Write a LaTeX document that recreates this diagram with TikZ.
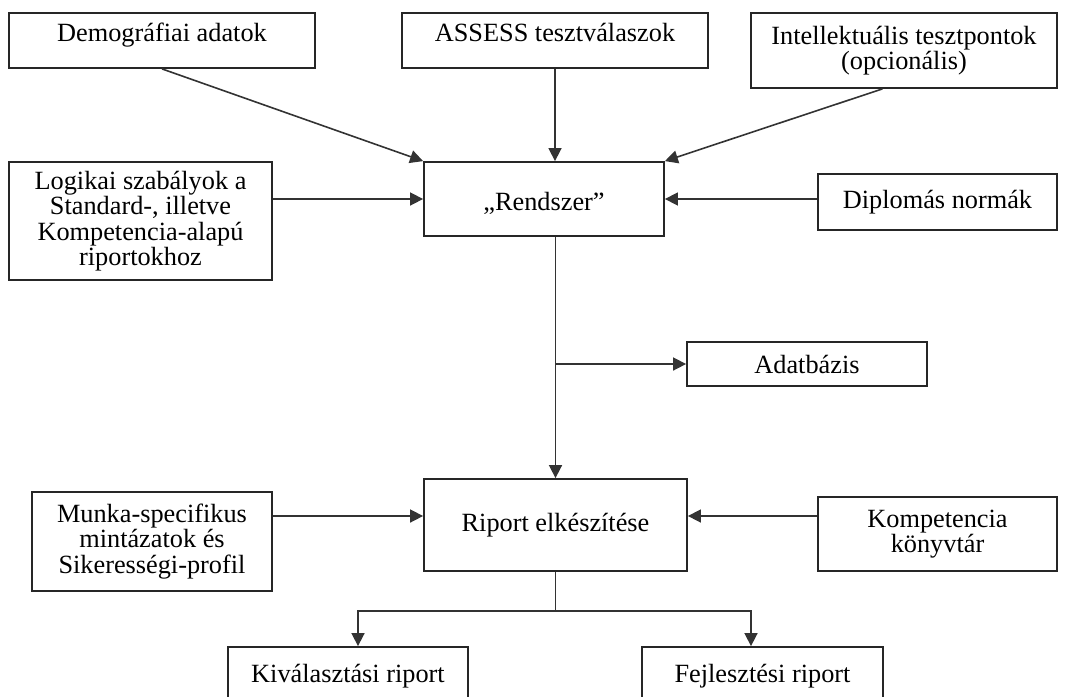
\documentclass[tikz,border=0pt]{standalone}
\usepackage{fontspec}
\setmainfont{Liberation Serif}
\usepackage{tikz}
\usetikzlibrary{arrows.meta,calc}

\begin{document}
\begin{tikzpicture}[x=1pt,y=-1pt,>={Triangle[length=13pt,width=13pt]},
    box/.style={draw=black!85,line width=1.8pt,align=center,inner sep=0pt,
      font=\fontsize{26.3}{25.5}\selectfont},
    topbox/.style={box,text height=18pt,text depth=17pt},
    link/.style={line width=1.6pt,draw=black!80}]
  \useasboundingbox (0,0) rectangle (1067,696);
  \node[topbox,minimum width=306pt,minimum height=55pt] (demo) at (162,40.5) {Demográfiai adatok};
  \node[topbox,minimum width=306pt,minimum height=55pt] (assess) at (555,40.5) {ASSESS tesztválaszok};
  \node[box,minimum width=306pt,minimum height=75pt] (intel) at (904,50.5) {Intellektuális tesztpontok\\(opcionális)};
  \node[box,minimum width=263pt,minimum height=118pt] (logik) at (140.5,221) {Logikai szabályok a\\Standard-, illetve\\Kompetencia-alapú\\riportokhoz};
  \node[box,minimum width=240pt,minimum height=74pt,text height=30pt,text depth=7pt] (rend) at (544,199) {„Rendszer”};
  \node[box,minimum width=239pt,minimum height=56pt] (diplom) at (937.5,202) {Diplomás normák};
  \node[box,minimum width=240pt,minimum height=44pt] (adat) at (807,364) {Adatbázis};
  \node[box,minimum width=240pt,minimum height=99pt] (munka) at (152,541.5) {Munka-specifikus\\mintázatok és\\Sikerességi-profil};
  \node[box,minimum width=263pt,minimum height=92pt] (riport) at (555.5,525) {Riport elkészítése};
  \node[box,minimum width=239pt,minimum height=74pt] (kompet) at (937.5,534) {Kompetencia\\könyvtár};
  \node[topbox,minimum width=240pt,minimum height=70pt] (kival) at (348,682) {Kiválasztási riport};
  \node[topbox,minimum width=241pt,minimum height=70pt] (fejl) at (762.5,682) {Fejlesztési riport};
  \coordinate (rin) at ($(riport.west)+(0,-9)$);
  \coordinate (rout) at ($(riport.east)+(0,-9)$);
  \coordinate (split) at ($(riport.south)+(0,39)$);
  \draw[link,->] (demo.south) -- (rend.north west);
  \draw[link,->] (assess.south) -- (assess.south |- rend.north);
  \draw[link,->] ($(intel.south west)!0.43!(intel.south east)$) -- (rend.north east);
  \draw[link,->] (logik.east |- rend.west) -- (rend.west);
  \draw[link,->] (diplom.west |- rend.east) -- (rend.east);
  \draw[link,->] (riport.north |- rend.south) -- (riport.north);
  \draw[link,->] (riport.north |- adat.west) -- (adat.west);
  \draw[link,->] (munka.east |- rin) -- (rin);
  \draw[link,->] (kompet.west |- rout) -- (rout);
  \draw[link] (riport.south) -- (split);
  \draw[link,->] (split) -| ($(kival.north)+(10,0)$);
  \draw[link,->] (split) -| ($(fejl.north)+(-11.5,0)$);
\end{tikzpicture}
\end{document}
